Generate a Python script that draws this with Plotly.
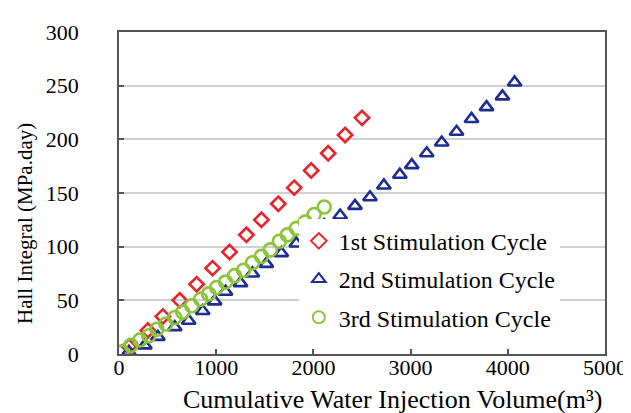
import plotly.graph_objects as go

# Data
c1_x = [102, 297, 451, 625, 799, 963, 1137, 1311, 1465, 1639, 1803, 1977, 2152, 2326, 2500]
c1_y = [7, 22, 35, 50, 65, 80, 95, 111, 125, 140, 155, 171, 187, 204, 220]

c2_x = [102, 266, 400, 574, 717, 861, 984, 1096, 1250, 1373, 1516, 1670, 1824, 1977,
        2111, 2275, 2428, 2582, 2725, 2889, 3012, 3166, 3320, 3473, 3627, 3781, 3945, 4070]
c2_y = [2, 8, 16, 25, 31, 40, 49, 58, 66, 75, 84, 94, 103, 113,
        120, 129, 138, 146, 157, 167, 176, 187, 197, 207, 219, 230, 240, 253]

c3_x = [31, 123, 215, 307, 389, 482, 574, 656, 748, 840, 922, 1004, 1096, 1189,
        1281, 1373, 1465, 1557, 1650, 1732, 1824, 1916, 2008, 2111]
c3_y = [2, 8, 13, 17, 23, 28, 34, 39, 45, 51, 56, 62, 67, 73,
        78, 85, 91, 97, 105, 111, 117, 123, 130, 137]

names = ["1st Stimulation Cycle", "2nd Stimulation Cycle", "3rd Stimulation Cycle"]
x_ticks = [0, 1000, 2000, 3000, 4000, 5000]
y_ticks = [0, 50, 100, 150, 200, 250, 300]
x_title = "Cumulative Water Injection Volume(m³)"
y_title = "Hall Integral (MPa.day)"

FONT = "'Liberation Serif', 'Times New Roman', serif"

fig = go.Figure()
fig.add_trace(go.Scatter(
    x=c1_x, y=c1_y, mode="markers", name=names[0], legendgroup="g1",
    marker=dict(symbol="diamond-open", size=11, color="#E8242C", line=dict(width=2.6, color="#E8242C")),
))
fig.add_trace(go.Scatter(
    x=c2_x, y=c2_y, mode="markers", name=names[1], legendgroup="g2",
    marker=dict(symbol="triangle-up-open", size=12, color="#1E2D92", line=dict(width=2.6, color="#1E2D92")),
))
fig.add_trace(go.Scatter(
    x=c3_x, y=c3_y, mode="markers", name=names[2], legendgroup="g3",
    marker=dict(symbol="circle-open", size=13, color="#8CC43C", line=dict(width=2.6, color="#8CC43C")),
))

fig.update_layout(
    width=631, height=413,
    margin=dict(l=111, r=33, t=16, b=67),
    paper_bgcolor="white", plot_bgcolor="white",
    font=dict(family=FONT, size=21, color="black"),
    showlegend=True,
    legend=dict(
        x=0.37, y=0.42, xanchor="left", yanchor="top",
        bgcolor="white", borderwidth=0,
        font=dict(family=FONT, size=24, color="black"),
        itemsizing="constant", tracegroupgap=4, itemwidth=30,
    ),
    xaxis=dict(
        range=[0, 5000], tickvals=x_ticks, ticktext=[str(v) for v in x_ticks],
        showgrid=False, zeroline=False,
        showline=True, linecolor="#555555", linewidth=1.5, mirror=True,
        ticks="inside", ticklen=5, tickcolor="#555555", tickwidth=1.5,
        tickfont=dict(family=FONT, size=22),
        ticklabelstandoff=-7,
    ),
    yaxis=dict(
        range=[0, 300], tickvals=y_ticks, ticktext=[str(v) for v in y_ticks],
        showgrid=True, gridcolor="#CDD1D5", gridwidth=1.5, zeroline=False,
        showline=True, linecolor="#555555", linewidth=1.5, mirror=True,
        ticks="inside", ticklen=5, tickcolor="#555555", tickwidth=1.5,
        tickfont=dict(family=FONT, size=22),
        ticklabelstandoff=34,
    ),
    annotations=[
        dict(text=x_title, xref="paper", yref="paper", x=0.562, y=-0.14,
             xanchor="center", yanchor="middle", showarrow=False,
             font=dict(family=FONT, size=26, color="black")),
        dict(text=y_title, xref="paper", yref="paper", x=-0.192, y=0.406,
             xanchor="center", yanchor="middle", showarrow=False, textangle=-90,
             font=dict(family=FONT, size=21, color="black")),
    ],
)

fig.write_html("out.html")
